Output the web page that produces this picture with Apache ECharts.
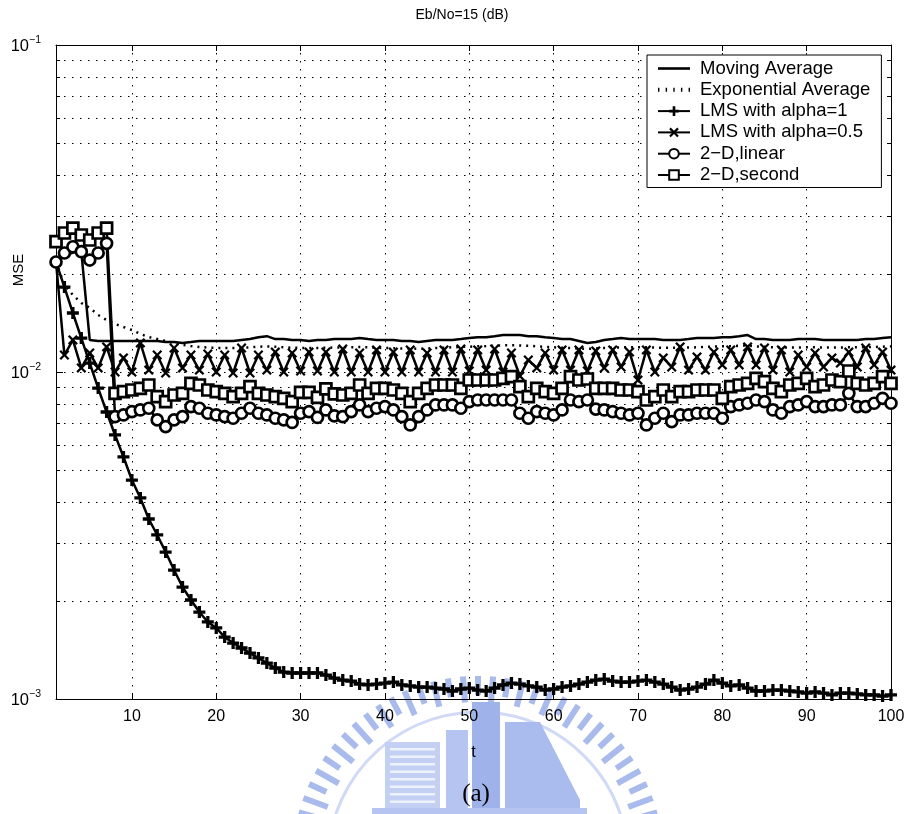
<!DOCTYPE html>
<html>
<head>
<meta charset="utf-8">
<script src="https://cdn.jsdelivr.net/npm/echarts@6/dist/echarts.min.js"></script>
<style>
  html, body { margin: 0; padding: 0; background: #fff; }
  #chart { width: 910px; height: 814px; }
</style>
</head>
<body>
<div id="chart"></div>
<script>
// Iteration index t = 1 .. 100
const steps = Array.from({ length: 100 }, (_, i) => i + 1);
const xTickValues = [10, 20, 30, 40, 50, 60, 70, 80, 90, 100];
const minorLevels = [2e-3, 3e-3, 4e-3, 5e-3, 6e-3, 7e-3, 8e-3, 9e-3,
                     2e-2, 3e-2, 4e-2, 5e-2, 6e-2, 7e-2, 8e-2, 9e-2];

const movingAverage = [
  21.70e-3, 22.60e-3, 23.20e-3, 23.30e-3, 12.53e-3, 12.44e-3, 12.44e-3, 12.44e-3, 12.44e-3, 12.44e-3,
  12.44e-3, 12.44e-3, 12.44e-3, 12.35e-3, 12.35e-3, 12.27e-3, 12.35e-3, 12.44e-3, 12.44e-3, 12.44e-3,
  12.44e-3, 12.44e-3, 12.53e-3, 12.61e-3, 12.78e-3, 12.87e-3, 12.61e-3, 12.61e-3, 12.53e-3, 12.53e-3,
  12.44e-3, 12.53e-3, 12.53e-3, 12.61e-3, 12.61e-3, 12.61e-3, 12.70e-3, 12.61e-3, 12.53e-3, 12.53e-3,
  12.53e-3, 12.44e-3, 12.44e-3, 12.35e-3, 12.44e-3, 12.53e-3, 12.53e-3, 12.53e-3, 12.61e-3, 12.70e-3,
  12.78e-3, 12.78e-3, 12.87e-3, 12.97e-3, 12.97e-3, 12.97e-3, 12.87e-3, 12.87e-3, 12.78e-3, 12.70e-3,
  12.61e-3, 12.61e-3, 12.44e-3, 12.27e-3, 12.35e-3, 12.53e-3, 12.61e-3, 12.70e-3, 12.61e-3, 12.61e-3,
  12.61e-3, 12.61e-3, 12.53e-3, 12.53e-3, 12.53e-3, 12.61e-3, 12.70e-3, 12.70e-3, 12.70e-3, 12.78e-3,
  12.78e-3, 12.87e-3, 12.97e-3, 12.61e-3, 12.61e-3, 12.53e-3, 12.53e-3, 12.53e-3, 12.61e-3, 12.61e-3,
  12.61e-3, 12.53e-3, 12.53e-3, 12.53e-3, 12.53e-3, 12.53e-3, 12.61e-3, 12.61e-3, 12.70e-3, 12.78e-3
];

const exponentialAverage = [
  21.70e-3, 18.45e-3, 17.20e-3, 16.26e-3, 15.70e-3, 14.94e-3, 14.42e-3, 14.02e-3, 13.73e-3, 13.44e-3,
  13.07e-3, 12.79e-3, 12.62e-3, 12.44e-3, 12.27e-3, 12.10e-3, 12.01e-3, 11.93e-3, 11.88e-3, 11.85e-3,
  11.85e-3, 11.84e-3, 11.86e-3, 11.90e-3, 11.95e-3, 11.97e-3, 11.95e-3, 11.90e-3, 11.86e-3, 11.85e-3,
  11.84e-3, 11.85e-3, 11.86e-3, 11.88e-3, 11.90e-3, 11.90e-3, 11.92e-3, 11.90e-3, 11.86e-3, 11.84e-3,
  11.82e-3, 11.80e-3, 11.80e-3, 11.78e-3, 11.80e-3, 11.84e-3, 11.86e-3, 11.90e-3, 11.93e-3, 11.95e-3,
  11.98e-3, 12.00e-3, 12.03e-3, 12.06e-3, 12.08e-3, 12.06e-3, 12.03e-3, 11.98e-3, 11.94e-3, 11.90e-3,
  11.86e-3, 11.83e-3, 11.80e-3, 11.78e-3, 11.80e-3, 11.84e-3, 11.87e-3, 11.90e-3, 11.90e-3, 11.90e-3,
  11.90e-3, 11.88e-3, 11.86e-3, 11.86e-3, 11.86e-3, 11.88e-3, 11.90e-3, 11.93e-3, 11.96e-3, 11.98e-3,
  12.00e-3, 12.03e-3, 12.06e-3, 11.98e-3, 11.94e-3, 11.90e-3, 11.88e-3, 11.88e-3, 11.89e-3, 11.90e-3,
  11.90e-3, 11.88e-3, 11.88e-3, 11.88e-3, 11.90e-3, 11.90e-3, 11.92e-3, 11.93e-3, 11.95e-3, 11.98e-3
];

const lmsAlpha1 = [
  21.70e-3, 18.19e-3, 15.15e-3, 12.70e-3, 10.65e-3, 8.930e-3, 7.545e-3, 6.418e-3, 5.497e-3, 4.674e-3,
  4.119e-3, 3.552e-3, 3.174e-3, 2.815e-3, 2.480e-3, 2.200e-3, 2.008e-3, 1.845e-3, 1.720e-3, 1.649e-3,
  1.547e-3, 1.483e-3, 1.432e-3, 1.382e-3, 1.335e-3, 1.288e-3, 1.244e-3, 1.209e-3, 1.201e-3, 1.201e-3,
  1.201e-3, 1.201e-3, 1.184e-3, 1.159e-3, 1.143e-3, 1.135e-3, 1.111e-3, 1.104e-3, 1.111e-3, 1.119e-3,
  1.127e-3, 1.104e-3, 1.096e-3, 1.088e-3, 1.088e-3, 1.080e-3, 1.073e-3, 1.058e-3, 1.073e-3, 1.080e-3,
  1.065e-3, 1.058e-3, 1.080e-3, 1.104e-3, 1.119e-3, 1.111e-3, 1.096e-3, 1.088e-3, 1.065e-3, 1.073e-3,
  1.088e-3, 1.096e-3, 1.111e-3, 1.127e-3, 1.143e-3, 1.151e-3, 1.135e-3, 1.127e-3, 1.127e-3, 1.135e-3,
  1.143e-3, 1.127e-3, 1.111e-3, 1.088e-3, 1.065e-3, 1.073e-3, 1.088e-3, 1.111e-3, 1.143e-3, 1.119e-3,
  1.096e-3, 1.104e-3, 1.080e-3, 1.058e-3, 1.058e-3, 1.065e-3, 1.065e-3, 1.058e-3, 1.051e-3, 1.043e-3,
  1.051e-3, 1.043e-3, 1.029e-3, 1.043e-3, 1.043e-3, 1.036e-3, 1.029e-3, 1.029e-3, 1.021e-3, 1.029e-3
];

const lmsAlphaHalf = [
  21.70e-3, 11.27e-3, 12.53e-3, 10.29e-3, 11.43e-3, 10.29e-3, 11.93e-3, 10.00e-3, 11.04e-3, 10.00e-3,
  12.27e-3, 10.14e-3, 11.27e-3, 9.930e-3, 11.84e-3, 10.29e-3, 11.27e-3, 10.14e-3, 11.35e-3, 10.00e-3,
  11.27e-3, 9.930e-3, 11.84e-3, 9.930e-3, 11.27e-3, 10.14e-3, 11.51e-3, 10.00e-3, 11.43e-3, 10.07e-3,
  11.51e-3, 10.07e-3, 11.51e-3, 10.00e-3, 11.76e-3, 10.00e-3, 11.43e-3, 10.00e-3, 11.68e-3, 10.00e-3,
  11.51e-3, 10.00e-3, 11.68e-3, 10.00e-3, 11.43e-3, 10.00e-3, 11.68e-3, 10.00e-3, 11.76e-3, 10.07e-3,
  11.68e-3, 10.14e-3, 11.76e-3, 10.00e-3, 11.43e-3, 9.720e-3, 10.88e-3, 10.29e-3, 11.43e-3, 10.14e-3,
  11.68e-3, 10.14e-3, 11.68e-3, 10.07e-3, 11.60e-3, 10.29e-3, 11.68e-3, 10.36e-3, 11.51e-3, 9.450e-3,
  11.68e-3, 10.00e-3, 11.04e-3, 10.36e-3, 11.93e-3, 10.14e-3, 11.12e-3, 10.14e-3, 11.51e-3, 10.51e-3,
  11.68e-3, 10.51e-3, 11.93e-3, 10.51e-3, 11.84e-3, 10.14e-3, 11.68e-3, 10.00e-3, 11.27e-3, 10.36e-3,
  11.43e-3, 10.36e-3, 11.04e-3, 10.65e-3, 11.51e-3, 10.36e-3, 11.84e-3, 10.51e-3, 11.51e-3, 10.14e-3
];

const twoDLinear = [
  21.70e-3, 23.12e-3, 24.16e-3, 23.33e-3, 22.00e-3, 23.12e-3, 24.75e-3, 7.302e-3, 7.390e-3, 7.562e-3,
  7.655e-3, 7.746e-3, 7.135e-3, 6.805e-3, 7.135e-3, 7.302e-3, 7.834e-3, 7.746e-3, 7.478e-3, 7.390e-3,
  7.302e-3, 7.220e-3, 7.478e-3, 7.746e-3, 7.478e-3, 7.390e-3, 7.220e-3, 7.135e-3, 7.010e-3, 7.478e-3,
  7.562e-3, 7.260e-3, 7.655e-3, 7.340e-3, 7.302e-3, 7.562e-3, 7.929e-3, 7.562e-3, 7.746e-3, 7.834e-3,
  7.655e-3, 7.302e-3, 6.888e-3, 7.302e-3, 7.655e-3, 7.929e-3, 7.929e-3, 7.929e-3, 7.746e-3, 8.114e-3,
  8.212e-3, 8.212e-3, 8.212e-3, 8.212e-3, 8.212e-3, 7.478e-3, 7.220e-3, 7.562e-3, 7.478e-3, 7.390e-3,
  7.655e-3, 8.212e-3, 8.114e-3, 8.212e-3, 7.700e-3, 7.655e-3, 7.562e-3, 7.478e-3, 7.390e-3, 7.478e-3,
  6.888e-3, 7.220e-3, 7.478e-3, 7.048e-3, 7.390e-3, 7.390e-3, 7.478e-3, 7.478e-3, 7.478e-3, 7.220e-3,
  7.834e-3, 7.929e-3, 8.024e-3, 8.212e-3, 8.114e-3, 7.655e-3, 7.478e-3, 7.834e-3, 7.929e-3, 8.114e-3,
  7.834e-3, 7.834e-3, 7.929e-3, 7.929e-3, 8.608e-3, 7.834e-3, 7.834e-3, 8.024e-3, 8.310e-3, 8.024e-3
];

const twoDSecond = [
  25.03e-3, 26.61e-3, 27.56e-3, 26.24e-3, 25.33e-3, 26.61e-3, 27.56e-3, 8.608e-3, 8.705e-3, 8.810e-3,
  8.916e-3, 9.126e-3, 8.404e-3, 8.114e-3, 8.506e-3, 8.608e-3, 9.234e-3, 9.126e-3, 8.810e-3, 8.705e-3,
  8.608e-3, 8.404e-3, 8.608e-3, 9.017e-3, 8.608e-3, 8.506e-3, 8.404e-3, 8.310e-3, 8.114e-3, 8.660e-3,
  8.660e-3, 8.360e-3, 8.880e-3, 8.570e-3, 8.506e-3, 8.608e-3, 9.126e-3, 8.608e-3, 8.916e-3, 8.916e-3,
  8.810e-3, 8.608e-3, 8.114e-3, 8.608e-3, 8.916e-3, 9.126e-3, 9.126e-3, 9.126e-3, 8.916e-3, 9.452e-3,
  9.452e-3, 9.452e-3, 9.452e-3, 9.567e-3, 9.675e-3, 9.017e-3, 8.404e-3, 8.916e-3, 8.705e-3, 8.608e-3,
  8.916e-3, 9.675e-3, 9.452e-3, 9.520e-3, 8.916e-3, 8.916e-3, 8.916e-3, 8.810e-3, 8.810e-3, 8.705e-3,
  8.212e-3, 8.404e-3, 8.810e-3, 8.404e-3, 8.705e-3, 8.705e-3, 8.810e-3, 8.810e-3, 8.810e-3, 8.310e-3,
  9.017e-3, 9.126e-3, 9.234e-3, 9.567e-3, 9.339e-3, 8.916e-3, 8.705e-3, 9.126e-3, 9.234e-3, 9.567e-3,
  9.017e-3, 9.126e-3, 9.452e-3, 9.339e-3, 10.07e-3, 9.234e-3, 9.126e-3, 9.234e-3, 9.675e-3, 9.234e-3
];

const FONT = '"Liberation Sans", Arial, Helvetica, sans-serif';
const plusSymbol = 'path://M4,0H7V4H11V7H7V11H4V7H0V4H4Z';
const crossSymbol = 'path://M0,1.6L1.6,0L5,3.4L8.4,0L10,1.6L6.6,5L10,8.4L8.4,10L5,6.6L1.6,10L0,8.4L3.4,5Z';
// Legend samples for the two marker-less curves
const solidIcon = 'path://M0,0H32V2.6H0Z';
const dottedIcon = 'path://M0,0h1.4v4h-1.4zM7.6,0h1.4v4h-1.4zM15.2,0h1.4v4h-1.4zM22.8,0h1.4v4h-1.4zM30.4,0h1.4v4h-1.4z';

const toPairs = vals => vals.map((v, i) => [steps[i], v]);

function curve(name, vals, marker) {
  return {
    type: 'line',
    name: name,
    data: toPairs(vals),
    showAllSymbol: true,
    animation: false,
    lineStyle: { color: '#000', width: 2.5, type: marker.dash || 'solid' },
    symbol: marker.symbol || 'none',
    symbolSize: marker.size || 0,
    itemStyle: marker.hollow
      ? { color: '#fff', borderColor: '#000', borderWidth: 2.7 }
      : { color: '#000', borderWidth: 0 },
    emphasis: { disabled: true },
    z: 3
  };
}

// Dotted minor grid lines plus short inward ticks at both y edges
const minorGrid = {
  type: 'custom',
  silent: true,
  animation: false,
  z: 1,
  encode: { x: 0, y: 1 },
  data: minorLevels.map(v => [1, v]),
  renderItem(params, api) {
    const y = Math.round(api.coord([1, api.value(1)])[1]) + 0.5;
    const cs = params.coordSys;
    const l = cs.x, r = cs.x + cs.width;
    return {
      type: 'group',
      children: [
        { type: 'line', shape: { x1: l, y1: y, x2: r, y2: y },
          style: { stroke: '#000', lineWidth: 1, lineDash: [1.5, 6.5] } },
        { type: 'line', shape: { x1: l, y1: y, x2: l + 4, y2: y },
          style: { stroke: '#000', lineWidth: 1 } },
        { type: 'line', shape: { x1: r - 4, y1: y, x2: r, y2: y },
          style: { stroke: '#000', lineWidth: 1 } }
      ]
    };
  }
};

// Faint emblem printed behind the lower part of the figure
function emblem() {
  const cx = 478, cy = 862;
  const parts = [];
  for (let k = 0; k <= 34; k++) {
    const a = Math.PI * (1.06 + 0.88 * k / 34);
    const r1 = (k % 2 === 0) ? 160 : 167;
    const r2 = 186;
    parts.push({
      type: 'line',
      shape: { x1: cx + r1 * Math.cos(a), y1: cy + r1 * Math.sin(a),
               x2: cx + r2 * Math.cos(a), y2: cy + r2 * Math.sin(a) },
      style: { stroke: '#a9bbec', lineWidth: 6 }
    });
  }
  parts.push({ type: 'arc', shape: { cx: cx, cy: cy, r: 150, startAngle: Math.PI * 1.05, endAngle: Math.PI * 1.95 },
               style: { stroke: '#d0daf6', lineWidth: 3, fill: null } });
  parts.push({ type: 'rect', shape: { x: 385, y: 742, width: 55, height: 66 }, style: { fill: '#c4d0f3' } });
  for (let j = 0; j < 8; j++) {
    parts.push({ type: 'rect', shape: { x: 390, y: 748 + j * 7.5, width: 45, height: 2.5 }, style: { fill: '#eef2fc' } });
  }
  parts.push({ type: 'rect', shape: { x: 446, y: 730, width: 22, height: 78 }, style: { fill: '#b5c4f0' } });
  parts.push({ type: 'rect', shape: { x: 472, y: 702, width: 28, height: 106 }, style: { fill: '#9fb3ea' } });
  parts.push({ type: 'polygon', shape: { points: [[505, 722], [540, 722], [580, 800], [580, 808], [505, 808]] },
               style: { fill: '#aabcee' } });
  parts.push({ type: 'rect', shape: { x: 372, y: 808, width: 215, height: 6 }, style: { fill: '#b5c4f0' } });
  return { type: 'group', silent: true, z: -10, children: parts };
}

const chart = echarts.init(document.getElementById('chart'), null, { renderer: 'canvas' });

const axisLineStyle = { color: '#000', width: 1 };

chart.setOption({
  animation: false,
  backgroundColor: '#fff',
  textStyle: { fontFamily: FONT, color: '#000' },
  grid: { left: 56, right: 19, top: 45, bottom: 115, containLabel: false },
  legend: {
    orient: 'vertical',
    left: 647,
    top: 55,
    padding: [4, 11, 3, 10],
    itemWidth: 32,
    itemHeight: 12,
    itemGap: 2.3,
    backgroundColor: '#fff',
    borderColor: '#000',
    borderWidth: 1,
    selectedMode: false,
    textStyle: { fontFamily: FONT, fontSize: 18.5, color: '#000', padding: [0, 0, 0, 5] },
    data: [
      { name: 'Moving Average', icon: solidIcon },
      { name: 'Exponential Average', icon: dottedIcon },
      'LMS with alpha=1',
      'LMS with alpha=0.5',
      '2\u2212D,linear',
      '2\u2212D,second'
    ]
  },
  xAxis: [
    {
      type: 'value', min: 1, max: 100, position: 'bottom',
      name: 't', nameLocation: 'middle', nameGap: 46,
      nameTextStyle: { fontFamily: FONT, fontSize: 16, color: '#000' },
      axisLine: { show: true, onZero: false, lineStyle: axisLineStyle },
      axisTick: { show: true, inside: true, length: 6, customValues: xTickValues, lineStyle: axisLineStyle },
      axisLabel: { customValues: xTickValues, fontFamily: FONT, fontSize: 16, color: '#000', margin: 10 },
      splitLine: { show: true, lineStyle: { color: '#000', width: 1, type: [1.5, 6.5] } }
    },
    {
      type: 'value', min: 1, max: 100, position: 'top',
      axisLine: { show: true, onZero: false, lineStyle: axisLineStyle },
      axisTick: { show: true, inside: true, length: 6, customValues: xTickValues, lineStyle: axisLineStyle },
      axisLabel: { show: false },
      splitLine: { show: false }
    }
  ],
  yAxis: [
    {
      type: 'log', logBase: 10, min: 1e-3, max: 1e-1, position: 'left',
      axisLine: { show: true, onZero: false, lineStyle: axisLineStyle },
      axisTick: { show: true, inside: true, length: 7, lineStyle: axisLineStyle },
      axisLabel: {
        margin: 15,
        formatter: v => '{b|10}{s|\u2212' + Math.abs(Math.round(Math.log10(v))) + '}',
        rich: {
          b: { fontFamily: FONT, fontSize: 16.5, color: '#000', lineHeight: 20, verticalAlign: 'bottom' },
          s: { fontFamily: FONT, fontSize: 10.5, color: '#000', lineHeight: 20, verticalAlign: 'top' }
        }
      },
      splitLine: { show: true, lineStyle: { color: '#000', width: 1, type: [1.5, 6.5] } }
    },
    {
      type: 'log', logBase: 10, min: 1e-3, max: 1e-1, position: 'right',
      axisLine: { show: true, onZero: false, lineStyle: axisLineStyle },
      axisTick: { show: true, inside: true, length: 7, lineStyle: axisLineStyle },
      axisLabel: { show: false },
      splitLine: { show: false }
    }
  ],
  graphic: [
    emblem(),
    { type: 'text', x: 462, y: 15, silent: true,
      style: { text: 'Eb/No=15 (dB)', fontFamily: FONT, fontSize: 14, fill: '#000', align: 'center', verticalAlign: 'middle' } },
    { type: 'text', x: 19, y: 270, rotation: Math.PI / 2, silent: true,
      style: { text: 'MSE', fontFamily: FONT, fontSize: 15, fill: '#000', align: 'center', verticalAlign: 'middle' } },
    { type: 'text', x: 476, y: 794, silent: true,
      style: { text: '(a)', fontFamily: '"Liberation Serif", "Times New Roman", serif', fontSize: 25, fill: '#000', align: 'center', verticalAlign: 'middle' } }
  ],
  series: [
    minorGrid,
    curve('Moving Average', movingAverage, {}),
    curve('Exponential Average', exponentialAverage, { dash: [2, 5] }),
    curve('LMS with alpha=1', lmsAlpha1, { symbol: plusSymbol, size: 12 }),
    curve('LMS with alpha=0.5', lmsAlphaHalf, { symbol: crossSymbol, size: 10 }),
    curve('2\u2212D,linear', twoDLinear, { symbol: 'circle', size: 11, hollow: true }),
    curve('2\u2212D,second', twoDSecond, { symbol: 'rect', size: 11, hollow: true })
  ]
});
</script>
</body>
</html>
